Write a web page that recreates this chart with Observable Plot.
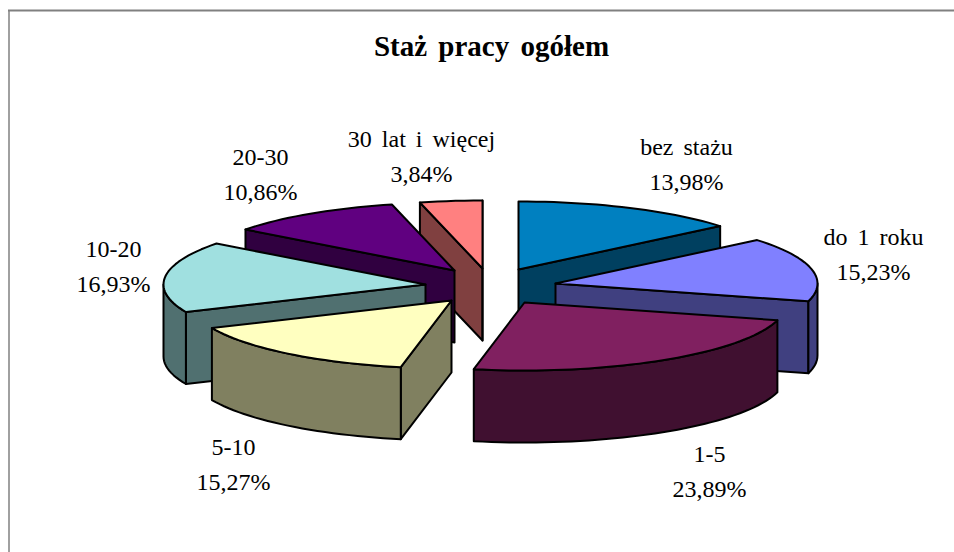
<!DOCTYPE html>
<html lang="pl">
<head>
<meta charset="utf-8">
<style>html,body{margin:0;padding:0;background:#fff}svg{display:block}</style>
<script src="https://cdn.jsdelivr.net/npm/d3@7"></script>
<script src="https://cdn.jsdelivr.net/npm/@observablehq/plot@0.6"></script>
</head>
<body>
<script>
// Data
const categories = ["bez stażu", "do 1 roku", "1-5", "5-10", "10-20", "20-30", "30 lat i więcej"];
const shares = [13.98, 15.23, 23.89, 15.27, 16.93, 10.86, 3.84];

// Styling
const topColors = ["#0080C0", "#8080FF", "#802060", "#FFFFC0", "#A0E0E0", "#600080", "#FF8080"];
const sideColors = ["#004060", "#404080", "#401030", "#808060", "#507070", "#300040", "#804040"];

// Layout: exploded slice centres, label anchors, pie projection
const centerX = [518, 555, 524, 451, 425, 454, 482];
const centerY = [269, 283, 302, 300, 284, 270, 268];
const labelX = [686, 873, 709, 233, 113, 260, 421];
const labelY = [161, 251, 468, 461, 263, 171, 153];
const paintOrder = [6, 0, 5, 4, 1, 3, 2];
const rx = 262, ry = 68, depth = 72;

const cum = d3.cumsum(shares);
const startAngle = i => (i === 0 ? 0 : cum[i - 1]) * 3.6;
const endAngle = i => cum[i] * 3.6;
const rad = a => a * Math.PI / 180;
const rim = (i, a, dz = 0) => ({
  x: centerX[i] + rx * Math.sin(rad(a)),
  y: centerY[i] - ry * Math.cos(rad(a)) + dz
});
const arc = (i, a0, a1, dz = 0) => {
  const n = Math.max(1, Math.ceil((a1 - a0) / 2));
  return d3.range(n + 1).map(k => rim(i, a0 + (a1 - a0) * k / n, dz));
};
const apex = (i, dz = 0) => ({x: centerX[i], y: centerY[i] + dz});

const face = (pts, fill) => Plot.line(pts, {
  x: "x", y: "y", fill, stroke: "#000", strokeWidth: 2,
  curve: "linear-closed", strokeLinejoin: "round"
});

const radialWall = (i, a) => [apex(i), rim(i, a), rim(i, a, depth), apex(i, depth)];

const marks = [];
for (const i of paintOrder) {
  const a0 = startAngle(i), a1 = endAngle(i);
  // Only the radial walls that face the viewer are drawn
  if (Math.sin(rad(a0)) < 0) marks.push(face(radialWall(i, a0), sideColors[i]));
  if (Math.sin(rad(a1)) > 0) marks.push(face(radialWall(i, a1), sideColors[i]));
  const w0 = Math.max(a0, 90), w1 = Math.min(a1, 270);
  if (w1 > w0) {
    marks.push(face([...arc(i, w0, w1), ...arc(i, w0, w1, depth).reverse()], sideColors[i]));
  }
  marks.push(face([apex(i), ...arc(i, a0, a1)], topColors[i]));
}

const fmt = v => v.toFixed(2).replace(".", ",") + "%";
const labels = categories.map((c, i) => ({
  text: c + "\n" + fmt(shares[i]), x: labelX[i], y: labelY[i]
}));

const chart = Plot.plot({
  width: 954, height: 552,
  margin: 0,
  x: {domain: [0, 954], range: [0, 954], axis: null},
  y: {domain: [0, 552], range: [0, 552], axis: null},
  style: {background: "#fff", wordSpacing: "4px"},
  marks: [
    Plot.ruleY([10], {x1: 8, x2: 954, stroke: "#808080", strokeWidth: 2}),
    Plot.ruleX([8.5], {y1: 10, y2: 552, stroke: "#808080", strokeWidth: 1.5}),
    ...marks,
    Plot.text(["Staż pracy ogółem"], {
      x: [491], y: [46], fontFamily: "Liberation Serif", fontSize: 29,
      fontWeight: "bold", fill: "#000"
    }),
    Plot.text(labels, {
      x: "x", y: "y", text: "text", fontFamily: "Liberation Serif", fontSize: 24,
      lineHeight: 1.43, fill: "#000", textAnchor: "middle"
    })
  ]
});
document.body.appendChild(chart);
</script>
</body>
</html>
